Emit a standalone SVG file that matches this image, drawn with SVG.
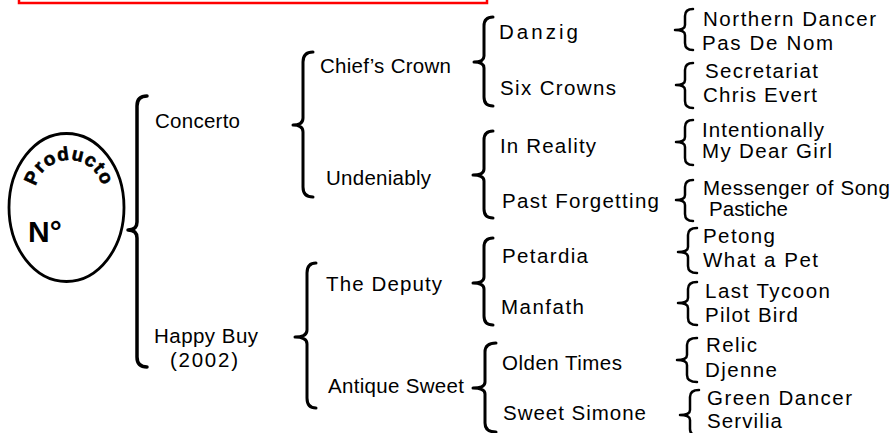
<svg xmlns="http://www.w3.org/2000/svg" width="892" height="433" viewBox="0 0 892 433">
<style>
  .t{font-family:"Liberation Sans",Arial,sans-serif;font-size:20.5px;fill:#000}
  .b{fill:none;stroke:#000;stroke-linecap:round;stroke-linejoin:round}
  .b1{stroke-width:3.5}
  .b2{stroke-width:3}
  .b3{stroke-width:2.5}
</style>
<defs>
  <path id="arc" d="M 35,194 A 34 34 0 0 1 103,194"/>
</defs>
<rect x="19" y="-10" width="468" height="13" fill="#fff" stroke="#ff0000" stroke-width="2.5"/>
<g id="connectors">
  <path class="b b1" d="M147,96 Q137,96 137,106 L137,222 Q137,230 128,230 Q137,230 137,238 L137,357 Q137,367 147,367"/>
  <path class="b b2" d="M313,52 Q303,52 303,62 L303,118 Q303,125 293,125 Q303,125 303,132 L303,187 Q303,197 313,197"/>
  <path class="b b2" d="M316,263 Q307,263 307,273 L307,330 Q307,337 295,337 Q307,337 307,344 L307,398 Q307,408 316,408"/>
  <path class="b b2" d="M493,17 Q484,17 484,26 L484,56 Q484,62 474,62 Q484,62 484,68 L484,97 Q484,106 493,106"/>
  <path class="b b2" d="M493,131 Q484,131 484,140 L484,169 Q484,175 473,175 Q484,175 484,181 L484,209 Q484,218 493,218"/>
  <path class="b b2" d="M493,238 Q484,238 484,247 L484,277 Q484,283 473,283 Q484,283 484,289 L484,316 Q484,325 493,325"/>
  <path class="b b2" d="M496,343 Q485,343 485,352 L485,382 Q485,388 473,388 Q485,388 485,394 L485,423 Q485,432 496,432"/>
  <path class="b b3" d="M693,9 Q685,9 685,16 L685,25 Q685,30 675,30 Q685,30 685,35 L685,43 Q685,50 693,50"/>
  <path class="b b3" d="M693,63 Q685,63 685,70 L685,80 Q685,85 676,85 Q685,85 685,90 L685,101 Q685,108 693,108"/>
  <path class="b b3" d="M693,120 Q685,120 685,127 L685,137 Q685,142 676,142 Q685,142 685,147 L685,158 Q685,165 693,165"/>
  <path class="b b3" d="M693,180 Q685,180 685,187 L685,195 Q685,200 676,200 Q685,200 685,205 L685,214 Q685,221 693,221"/>
  <path class="b b3" d="M697,228 Q688,228 688,235 L688,247 Q688,252 678,252 Q688,252 688,257 L688,266 Q688,273 697,273"/>
  <path class="b b3" d="M697,282 Q688,282 688,289 L688,298 Q688,303 678,303 Q688,303 688,308 L688,318 Q688,325 697,325"/>
  <path class="b b3" d="M697,338 Q687,338 687,345 L687,355 Q687,360 677,360 Q687,360 687,365 L687,375 Q687,382 697,382"/>
  <path class="b b3" d="M699,390 Q690,390 690,397 L690,410 Q690,415 680,415 Q690,415 690,420 L690,429 Q690,436 699,436"/>
</g>
<g id="producto">
  <ellipse cx="66.5" cy="207.5" rx="57.5" ry="74" fill="#fff" stroke="#000" stroke-width="2.8"/>
  <text font-family="'Liberation Sans',Arial,sans-serif" font-size="19" font-weight="bold" letter-spacing="1" stroke="#000" stroke-width="0.6"><textPath href="#arc" startOffset="50%" text-anchor="middle">Producto</textPath></text>
  <text x="28" y="242" font-family="'Liberation Sans',Arial,sans-serif" font-size="30" font-weight="bold">N°</text>
</g>
<g id="concerto"><text class="t" x="155" y="128" textLength="85" lengthAdjust="spacing">Concerto</text></g>
<g id="happy-buy"><text class="t" x="154" y="343" textLength="104" lengthAdjust="spacing">Happy Buy</text><text class="t" x="170" y="367" textLength="68" lengthAdjust="spacing">(2002)</text></g>
<g id="chiefs-crown"><text class="t" x="320" y="73" textLength="131" lengthAdjust="spacing">Chief’s Crown</text></g>
<g id="undeniably"><text class="t" x="326" y="185" textLength="105" lengthAdjust="spacing">Undeniably</text></g>
<g id="the-deputy"><text class="t" x="326" y="291" textLength="116" lengthAdjust="spacing">The Deputy</text></g>
<g id="antique-sweet"><text class="t" x="328" y="393" textLength="136" lengthAdjust="spacing">Antique Sweet</text></g>
<g id="danzig"><text class="t" x="499" y="39" textLength="79" lengthAdjust="spacing">Danzig</text></g>
<g id="six-crowns"><text class="t" x="500" y="95" textLength="116" lengthAdjust="spacing">Six Crowns</text></g>
<g id="in-reality"><text class="t" x="500" y="153" textLength="96" lengthAdjust="spacing">In Reality</text></g>
<g id="past-forgetting"><text class="t" x="502" y="208" textLength="157" lengthAdjust="spacing">Past Forgetting</text></g>
<g id="petardia"><text class="t" x="502" y="263" textLength="86" lengthAdjust="spacing">Petardia</text></g>
<g id="manfath"><text class="t" x="501" y="314" textLength="83" lengthAdjust="spacing">Manfath</text></g>
<g id="olden-times"><text class="t" x="502" y="370" textLength="120" lengthAdjust="spacing">Olden Times</text></g>
<g id="sweet-simone"><text class="t" x="503" y="420" textLength="143" lengthAdjust="spacing">Sweet Simone</text></g>
<g id="northern-dancer"><text class="t" x="703" y="26" textLength="173" lengthAdjust="spacing">Northern Dancer</text></g>
<g id="pas-de-nom"><text class="t" x="702" y="50" textLength="131" lengthAdjust="spacing">Pas De Nom</text></g>
<g id="secretariat"><text class="t" x="705" y="78" textLength="113" lengthAdjust="spacing">Secretariat</text></g>
<g id="chris-evert"><text class="t" x="703" y="102" textLength="114" lengthAdjust="spacing">Chris Evert</text></g>
<g id="intentionally"><text class="t" x="702" y="137" textLength="122" lengthAdjust="spacing">Intentionally</text></g>
<g id="my-dear-girl"><text class="t" x="702" y="158" textLength="130" lengthAdjust="spacing">My Dear Girl</text></g>
<g id="messenger-of-song"><text class="t" x="703" y="195" textLength="187" lengthAdjust="spacing">Messenger of Song</text></g>
<g id="pastiche"><text class="t" x="709" y="216" textLength="79" lengthAdjust="spacing">Pastiche</text></g>
<g id="petong"><text class="t" x="703" y="243" textLength="72" lengthAdjust="spacing">Petong</text></g>
<g id="what-a-pet"><text class="t" x="703" y="267" textLength="115" lengthAdjust="spacing">What a Pet</text></g>
<g id="last-tycoon"><text class="t" x="705" y="298" textLength="125" lengthAdjust="spacing">Last Tycoon</text></g>
<g id="pilot-bird"><text class="t" x="705" y="322" textLength="93" lengthAdjust="spacing">Pilot Bird</text></g>
<g id="relic"><text class="t" x="706" y="352" textLength="51" lengthAdjust="spacing">Relic</text></g>
<g id="djenne"><text class="t" x="705" y="377" textLength="72" lengthAdjust="spacing">Djenne</text></g>
<g id="green-dancer"><text class="t" x="707" y="405" textLength="145" lengthAdjust="spacing">Green Dancer</text></g>
<g id="servilia"><text class="t" x="707" y="428" textLength="75" lengthAdjust="spacing">Servilia</text></g>
</svg>
